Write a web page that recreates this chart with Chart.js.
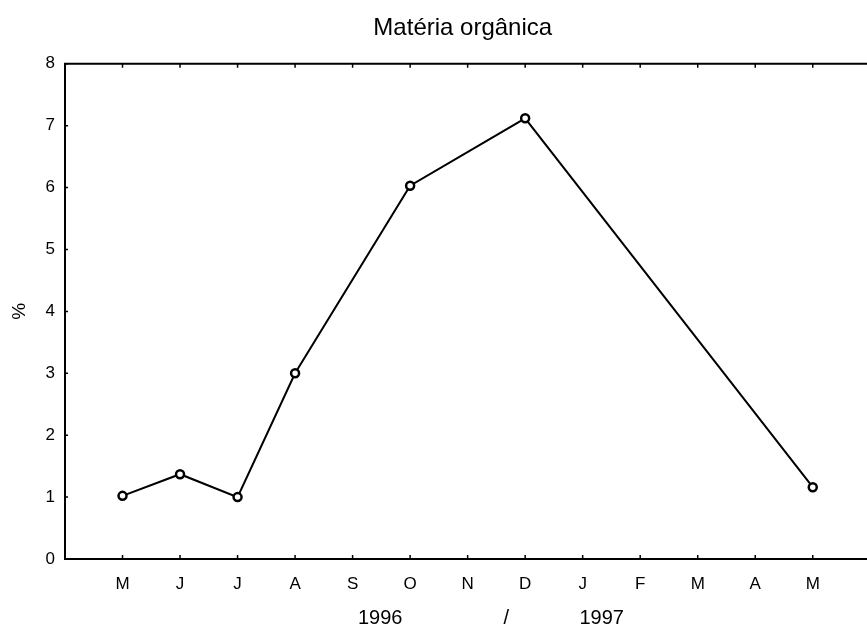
<!DOCTYPE html>
<html>
<head>
<meta charset="utf-8">
<script src="https://cdn.jsdelivr.net/npm/chart.js@4/dist/chart.umd.min.js"></script>
<style>
  html, body { margin: 0; padding: 0; background: #fff; overflow: hidden; }
</style>
</head>
<body>
<canvas id="chart" width="867" height="630"></canvas>
<script>
// months May 1996 .. May 1997
const months = ['M', 'J', 'J', 'A', 'S', 'O', 'N', 'D', 'J', 'F', 'M', 'A', 'M'];
const organicMatter = [1.02, 1.37, 1.0, 3.0, null, 6.03, null, 7.12, null, null, null, null, 1.16];
const yTicks = [0, 1, 2, 3, 4, 5, 6, 7, 8];
const yearLabels = [['1996', 4.48], ['/', 6.67], ['1997', 8.33]];

Chart.defaults.font.family = "'Liberation Sans', Arial, sans-serif";
Chart.defaults.color = '#000';

// frame with inward ticks, plus the year line under the months
const framePlugin = {
    id: 'frame',
    afterDraw(chart) {
        const ctx = chart.ctx;
        const a = chart.chartArea;
        const x = chart.scales.x, y = chart.scales.y;
        ctx.save();
        ctx.strokeStyle = '#000';
        ctx.lineWidth = 2;
        ctx.beginPath();
        ctx.moveTo(chart.width, a.top);
        ctx.lineTo(a.left, a.top);
        ctx.lineTo(a.left, a.bottom);
        ctx.lineTo(chart.width, a.bottom);
        ctx.stroke();

        ctx.lineWidth = 1.5;
        ctx.beginPath();
        months.forEach((m, i) => {
            const px = x.getPixelForValue(i);
            ctx.moveTo(px, a.bottom);
            ctx.lineTo(px, a.bottom - 4);
            ctx.moveTo(px, a.top);
            ctx.lineTo(px, a.top + 4);
        });
        yTicks.forEach(v => {
            const py = y.getPixelForValue(v);
            ctx.moveTo(a.left, py);
            ctx.lineTo(a.left + 3, py);
        });
        ctx.stroke();

        ctx.fillStyle = '#000';
        ctx.font = "20px 'Liberation Sans', Arial, sans-serif";
        ctx.textAlign = 'center';
        ctx.textBaseline = 'middle';
        yearLabels.forEach(([t, v]) => {
            ctx.fillText(t, x.getPixelForValue(v), 618);
        });
        ctx.restore();
    }
};

const ctx = document.getElementById('chart').getContext('2d');

const myChart = new Chart(ctx, {
    type: 'line',
    data: {
        datasets: [{
            label: 'Matéria orgânica',
            data: organicMatter.map((v, i) => ({ x: i, y: v })),
            borderColor: '#000',
            borderWidth: 2,
            pointRadius: 4,
            pointBorderWidth: 2.5,
            pointBorderColor: '#000',
            pointBackgroundColor: '#fff',
            spanGaps: true,
            tension: 0
        }]
    },
    options: {
        responsive: false,
        devicePixelRatio: 1,
        animation: false,
        layout: { padding: { left: 0, right: 0, bottom: 0, top: 0 } },
        plugins: {
            legend: { display: false },
            tooltip: { enabled: false },
            title: {
                display: true,
                fullSize: false,
                text: 'Matéria orgânica',
                color: '#000',
                font: { size: 24, weight: 'normal' },
                padding: { top: 14, bottom: 21 }
            }
        },
        scales: {
            x: {
                type: 'linear',
                min: -1,
                max: 12.83,
                grid: { display: false },
                border: { display: false },
                afterBuildTicks: s => { s.ticks = months.map((m, i) => ({ value: i })); },
                afterFit: s => { s.height = 71; },
                ticks: {
                    autoSkip: false,
                    maxRotation: 0,
                    padding: 7,
                    font: { size: 17 },
                    callback: v => months[v] ?? ''
                }
            },
            y: {
                min: 0,
                max: 8,
                grid: { display: false },
                border: { display: false },
                afterFit: s => { s.width = 65; },
                title: {
                    display: true,
                    text: '%',
                    font: { size: 19 },
                    padding: { top: 8, bottom: 0 }
                },
                ticks: {
                    stepSize: 1,
                    padding: 2,
                    font: { size: 17 }
                }
            }
        }
    },
    plugins: [framePlugin]
});
</script>
</body>
</html>
